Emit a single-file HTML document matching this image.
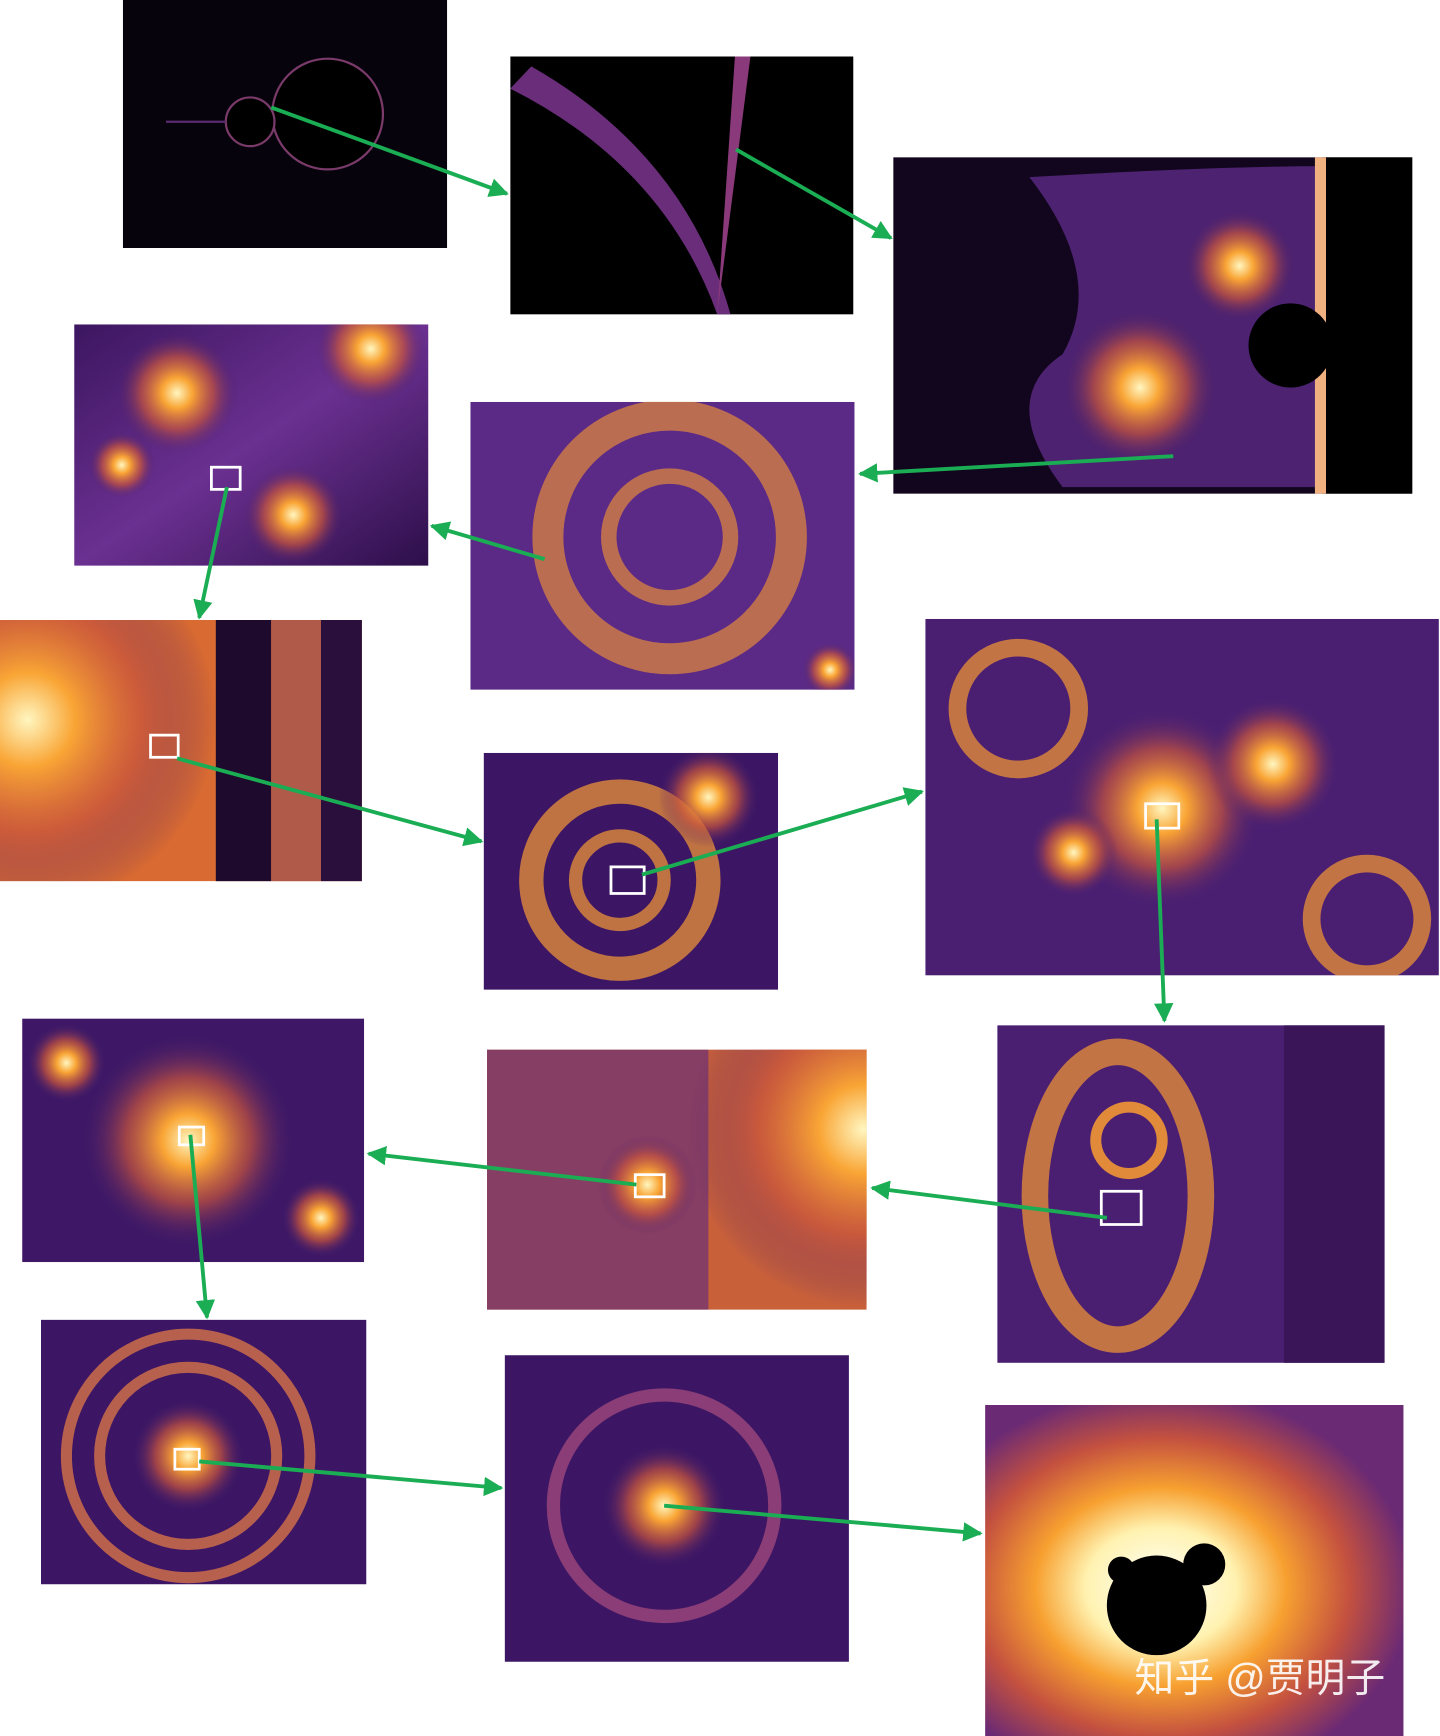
<!DOCTYPE html>
<html><head><meta charset="utf-8">
<style>
html,body{margin:0;padding:0;background:#fff;width:1440px;height:1736px;overflow:hidden}
svg{display:block}
.wm{font-family:"Liberation Sans","Noto Sans CJK SC",sans-serif}
</style></head>
<body>
<svg width="1440" height="1736" viewBox="0 0 1301 1568" preserveAspectRatio="none" xmlns="http://www.w3.org/2000/svg">
<defs>
 <radialGradient id="hot" cx="50%" cy="50%" r="50%">
  <stop offset="0" stop-color="#fff6c0"/><stop offset="0.25" stop-color="#f9a535"/><stop offset="0.6" stop-color="#c8553d" stop-opacity="0.7"/><stop offset="1" stop-color="#4a1f6e" stop-opacity="0"/>
 </radialGradient>
 <radialGradient id="hot14" cx="42%" cy="55%" r="60%">
  <stop offset="0" stop-color="#ffffff"/><stop offset="0.3" stop-color="#fff2b0"/><stop offset="0.5" stop-color="#f7a030"/><stop offset="0.75" stop-color="#c4513f"/><stop offset="1" stop-color="#6b2a74"/>
 </radialGradient>
 <linearGradient id="pur" x1="0" y1="0" x2="1" y2="1">
  <stop offset="0" stop-color="#3c1660"/><stop offset="0.5" stop-color="#6b3091"/><stop offset="1" stop-color="#2d0f4a"/>
 </linearGradient>
 <marker id="ah" viewBox="0 0 10 10" refX="9" refY="5" markerWidth="5" markerHeight="5" orient="auto"><path d="M0,0 L10,5 L0,10 z" fill="#1aad54"/></marker>
 <clipPath id="c1"><rect x="111" y="0" width="293" height="224"/></clipPath>
 <clipPath id="c2"><rect x="461" y="51" width="310" height="233"/></clipPath>
 <clipPath id="c3"><rect x="807" y="142" width="469" height="304"/></clipPath>
 <clipPath id="c4"><rect x="67" y="293" width="320" height="218"/></clipPath>
 <clipPath id="c5"><rect x="425" y="363" width="347" height="260"/></clipPath>
 <clipPath id="c6"><rect x="0" y="560" width="327" height="236"/></clipPath>
 <clipPath id="c7"><rect x="437" y="680" width="266" height="214"/></clipPath>
 <clipPath id="c8"><rect x="836" y="559" width="464" height="322"/></clipPath>
 <clipPath id="c9"><rect x="20" y="920" width="309" height="220"/></clipPath>
 <clipPath id="c10"><rect x="440" y="948" width="343" height="235"/></clipPath>
 <clipPath id="c11"><rect x="901" y="926" width="350" height="305"/></clipPath>
 <clipPath id="c12"><rect x="37" y="1192" width="294" height="239"/></clipPath>
 <clipPath id="c13"><rect x="456" y="1224" width="311" height="277"/></clipPath>
 <clipPath id="c14"><rect x="890" y="1269" width="378" height="299"/></clipPath>
</defs>

<g clip-path="url(#c1)">
 <rect x="111" y="0" width="293" height="224" fill="#07030c"/>
 <circle cx="296" cy="103" r="50" fill="#000" stroke="#7a3a6a" stroke-width="2"/>
 <circle cx="226" cy="110" r="22" fill="#000" stroke="#7a3a6a" stroke-width="2"/>
 <line x1="150" y1="110" x2="204" y2="110" stroke="#5a2a70" stroke-width="2"/>
</g>
<g clip-path="url(#c2)">
 <rect x="461" y="51" width="310" height="233" fill="#000"/>
 <path d="M461,80 Q600,150 648,284 L660,284 Q620,140 480,60 Z" fill="#6a2d7a"/>
 <path d="M648,284 L678,51 L664,51 Z" fill="#8a3a7a"/>
</g>
<g clip-path="url(#c3)">
 <rect x="807" y="142" width="469" height="304" fill="#12061e"/>
 <path d="M930,160 Q1100,150 1200,150 L1200,440 L960,440 Q900,360 960,320 Q1000,250 930,160Z" fill="#4d2270"/>
 <circle cx="1030" cy="350" r="70" fill="url(#hot)"/>
 <circle cx="1120" cy="240" r="50" fill="url(#hot)"/>
 <rect x="1195" y="142" width="81" height="304" fill="#000"/>
 <rect x="1188" y="142" width="10" height="304" fill="#f0b080"/>
 <circle cx="1166" cy="312" r="38" fill="#000"/>
</g>
<g clip-path="url(#c4)">
 <rect x="67" y="293" width="320" height="218" fill="url(#pur)"/>
 <circle cx="160" cy="355" r="55" fill="url(#hot)"/>
 <circle cx="335" cy="315" r="50" fill="url(#hot)"/>
 <circle cx="265" cy="465" r="45" fill="url(#hot)"/>
 <circle cx="110" cy="420" r="30" fill="url(#hot)"/>
</g>
<g clip-path="url(#c5)">
 <rect x="425" y="363" width="347" height="260" fill="#5b2a86"/>
 <circle cx="605" cy="485" r="110" fill="none" stroke="#e48a3a" stroke-width="28" opacity="0.7"/>
 <circle cx="605" cy="485" r="55" fill="none" stroke="#e48a3a" stroke-width="14" opacity="0.7"/>
 <circle cx="750" cy="605" r="25" fill="url(#hot)"/>
</g>
<g clip-path="url(#c6)">
 <rect x="0" y="560" width="327" height="236" fill="#d86a32"/>
 <circle cx="25" cy="650" r="170" fill="url(#hot)"/>
 <rect x="195" y="560" width="50" height="236" fill="#1d0a2c"/>
 <rect x="245" y="560" width="45" height="236" fill="#b05a4a"/>
 <rect x="290" y="560" width="37" height="236" fill="#2a0f3c"/>
</g>
<g clip-path="url(#c7)">
 <rect x="437" y="680" width="266" height="214" fill="#3c1664"/>
 <circle cx="560" cy="795" r="80" fill="none" stroke="#e08a3a" stroke-width="22" opacity="0.8"/>
 <circle cx="560" cy="795" r="40" fill="none" stroke="#e08a3a" stroke-width="12" opacity="0.8"/>
 <circle cx="640" cy="720" r="45" fill="url(#hot)"/>
</g>
<g clip-path="url(#c8)">
 <rect x="836" y="559" width="464" height="322" fill="#4a1f72"/>
 <circle cx="920" cy="640" r="55" fill="none" stroke="#e08a3a" stroke-width="16" opacity="0.8"/>
 <circle cx="1235" cy="830" r="50" fill="none" stroke="#e08a3a" stroke-width="16" opacity="0.8"/>
 <circle cx="1050" cy="730" r="90" fill="url(#hot)"/>
 <circle cx="1150" cy="690" r="60" fill="url(#hot)"/>
 <circle cx="970" cy="770" r="40" fill="url(#hot)"/>
</g>
<g clip-path="url(#c9)">
 <rect x="20" y="920" width="309" height="220" fill="#3e1866"/>
 <circle cx="170" cy="1030" r="95" fill="url(#hot)"/>
 <circle cx="60" cy="960" r="35" fill="url(#hot)"/>
 <circle cx="290" cy="1100" r="35" fill="url(#hot)"/>
</g>
<g clip-path="url(#c10)">
 <rect x="440" y="948" width="343" height="235" fill="#c8603a"/>
 <rect x="440" y="948" width="200" height="235" fill="#5b2880" opacity="0.6"/>
 <circle cx="780" cy="1020" r="160" fill="url(#hot)"/>
 <circle cx="585" cy="1070" r="45" fill="url(#hot)"/>
</g>
<g clip-path="url(#c11)">
 <rect x="901" y="926" width="350" height="305" fill="#4a1f72"/>
 <ellipse cx="1010" cy="1080" rx="75" ry="130" fill="none" stroke="#e08a3a" stroke-width="24" opacity="0.8"/>
 <circle cx="1020" cy="1030" r="30" fill="none" stroke="#e08a3a" stroke-width="10"/>
 <rect x="1160" y="926" width="91" height="305" fill="#3a1557"/>
</g>
<g clip-path="url(#c12)">
 <rect x="37" y="1192" width="294" height="239" fill="#3c1664"/>
 <circle cx="170" cy="1315" r="110" fill="none" stroke="#b8604e" stroke-width="10"/>
 <circle cx="170" cy="1315" r="80" fill="none" stroke="#b8604e" stroke-width="10"/>
 <circle cx="170" cy="1315" r="50" fill="url(#hot)"/>
</g>
<g clip-path="url(#c13)">
 <rect x="456" y="1224" width="311" height="277" fill="#3c1664"/>
 <circle cx="600" cy="1360" r="100" fill="none" stroke="#8a3d76" stroke-width="12"/>
 <circle cx="600" cy="1360" r="55" fill="url(#hot)"/>
</g>
<g clip-path="url(#c14)">
 <rect x="890" y="1269" width="378" height="299" fill="url(#hot14)"/>
 <circle cx="1045" cy="1450" r="45" fill="#000"/>
 <circle cx="1088" cy="1413" r="19" fill="#000"/>
 <circle cx="1013" cy="1418" r="12" fill="#000"/>
 <text class="wm" x="1025" y="1528" font-size="36" fill="#fff" opacity="0.9">知乎 @贾明子</text>
</g>

<g fill="none" stroke="#fff" stroke-width="2.5">
 <rect x="191" y="422" width="26" height="20"/>
 <rect x="136" y="664" width="25" height="20"/>
 <rect x="552" y="783" width="30" height="24"/>
 <rect x="1035" y="726" width="30" height="22"/>
 <rect x="995" y="1076" width="36" height="30"/>
 <rect x="574" y="1061" width="26" height="20"/>
 <rect x="162" y="1018" width="22" height="16"/>
 <rect x="158" y="1309" width="22" height="18"/>
</g>

<g stroke="#1aad54" stroke-width="3.5" marker-end="url(#ah)">
 <line x1="245" y1="97" x2="458" y2="175"/>
 <line x1="665" y1="135" x2="805" y2="215"/>
 <line x1="1060" y1="412" x2="777" y2="428"/>
 <line x1="492" y1="505" x2="390" y2="475"/>
 <line x1="205" y1="440" x2="180" y2="558"/>
 <line x1="160" y1="685" x2="435" y2="760"/>
 <line x1="580" y1="790" x2="833" y2="715"/>
 <line x1="1045" y1="740" x2="1052" y2="922"/>
 <line x1="1000" y1="1100" x2="788" y2="1073"/>
 <line x1="575" y1="1070" x2="333" y2="1042"/>
 <line x1="172" y1="1025" x2="187" y2="1190"/>
 <line x1="180" y1="1320" x2="453" y2="1344"/>
 <line x1="600" y1="1360" x2="886" y2="1385"/>
</g>
</svg>
</body></html>
